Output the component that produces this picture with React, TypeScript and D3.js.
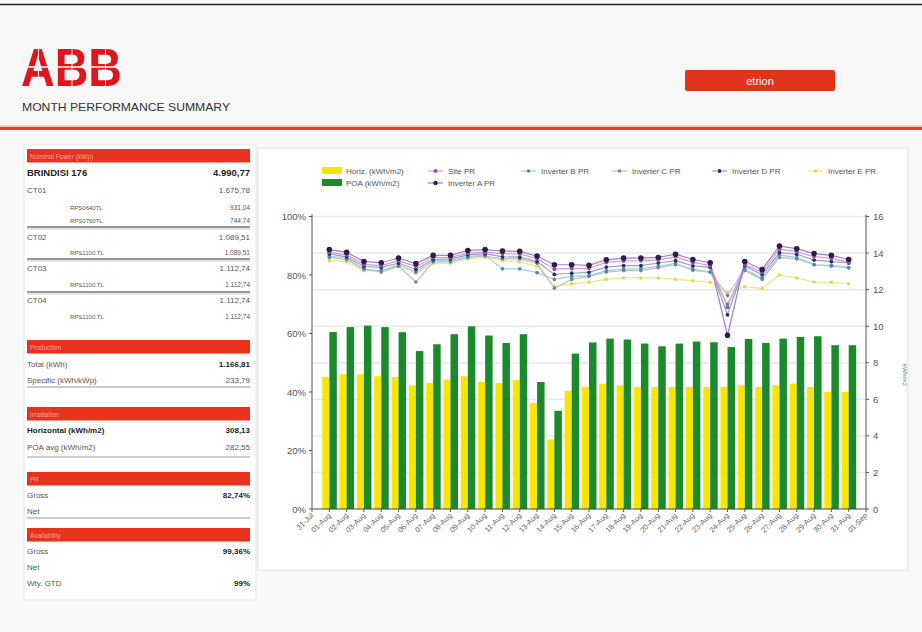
import React from 'react';
import * as d3 from 'd3';

const xLabels = ['31-Jul','01-Aug','02-Aug','03-Aug','04-Aug','05-Aug','06-Aug','07-Aug','08-Aug','09-Aug','10-Aug','11-Aug','12-Aug','13-Aug','14-Aug','15-Aug','16-Aug','17-Aug','18-Aug','19-Aug','20-Aug','21-Aug','22-Aug','23-Aug','24-Aug','25-Aug','26-Aug','27-Aug','28-Aug','29-Aug','30-Aug','31-Aug','01-Sep'];
const days = xLabels.slice(1, 32);

const horiz = [7.22,7.37,7.37,7.26,7.22,6.77,6.90,7.08,7.26,6.95,6.90,7.05,5.80,3.81,6.46,6.68,6.86,6.77,6.68,6.68,6.68,6.68,6.68,6.68,6.77,6.68,6.77,6.86,6.68,6.41,6.41];
const poa = [9.68,9.95,10.03,9.95,9.67,8.64,9.01,9.56,9.99,9.49,9.08,9.56,6.95,5.37,8.50,9.11,9.32,9.27,9.05,8.90,9.05,9.16,9.12,8.86,9.30,9.08,9.32,9.41,9.45,8.96,8.96];

const sitePR = [87.8,86.9,83.6,83.2,84.9,82.9,85.9,86.0,87.5,87.8,87.3,87.2,85.6,82.0,82.2,82.3,84.3,84.8,84.9,85.2,86.2,84.3,83.2,69.0,83.6,80.9,88.8,88.0,86.3,85.7,84.3];
const invA = [88.7,87.8,84.6,84.2,85.8,83.9,86.7,86.7,88.4,88.7,88.2,88.1,86.5,83.5,83.5,83.3,85.2,85.8,85.8,86.0,87.1,85.3,84.2,59.4,84.6,81.9,89.9,89.0,87.3,86.7,85.3];
const invB = [86.5,85.8,82.0,81.5,83.5,81.0,84.8,85.0,86.3,86.8,82.1,82.1,80.8,78.5,79.5,79.8,81.5,82.0,82.2,83.0,84.0,81.6,81.0,73.0,82.0,79.0,86.8,86.0,83.5,83.3,82.5];
const invC = [86.0,85.2,82.0,81.0,83.0,77.6,84.5,84.5,86.0,86.5,85.5,85.5,84.0,75.5,78.5,79.5,81.0,81.5,81.5,82.5,83.5,82.0,81.0,70.0,81.5,78.5,86.0,85.5,83.5,83.0,82.5];
const invD = [87.2,86.2,82.9,82.6,84.1,81.9,85.3,85.5,86.9,87.3,86.2,86.1,84.6,80.2,80.6,80.9,82.7,83.2,83.2,84.1,84.9,83.1,82.6,66.4,83.1,80.1,87.6,87.1,85.1,84.6,84.1];
const invE = [85.0,84.5,81.5,81.5,83.0,80.5,84.0,84.0,85.5,86.0,85.0,84.5,83.0,76.0,77.0,77.5,78.5,79.0,79.0,79.0,78.5,78.0,77.5,74.0,76.0,75.4,80.0,79.0,77.6,77.5,77.0];

const leftTicks = [0, 20, 40, 60, 80, 100];
const rightTicks = [0, 2, 4, 6, 8, 10, 12, 14, 16];

const nominalRows: [string, string, string][] = [
  ['BRINDISI 176', '4.990,77', 'bold'],
  ['CT01', '1.675,78', 'main'],
  ['RPS0640TL', '931,04', 'sub'],
  ['RPS0760TL', '744,74', 'sub'],
  ['CT02', '1.089,51', 'main'],
  ['RPS1100 TL', '1.089,51', 'sub'],
  ['CT03', '1.112,74', 'main'],
  ['RPS1100 TL', '1.112,74', 'sub'],
  ['CT04', '1.112,74', 'main'],
  ['RPS1100 TL', '1.112,74', 'sub'],
];
const nominalY = [173, 190, 207, 220, 237, 252, 268, 284, 300, 316];
const nominalLines = [227, 259, 292];

const sections = [
  { title: 'Production', top: 340, rows: [['Total (kWh)', '1.166,81', 'b'], ['Specific (kWh/kWp)', '233,79', 'n']], rowY: [364, 380], line: 387 },
  { title: 'Irradiation', top: 407, rows: [['Horizontal (kWh/m2)', '308,13', 'B'], ['POA avg (kWh/m2)', '282,55', 'n']], rowY: [430, 447], line: 457 },
  { title: 'PR', top: 472, rows: [['Gross', '82,74%', 'b'], ['Net', '', 'n']], rowY: [495, 511], line: 518 },
  { title: 'Availability', top: 528, rows: [['Gross', '99,36%', 'b'], ['Net', '', 'n'], ['Wty. GTD', '99%', 'b']], rowY: [551, 567, 583], line: -1 },
];

const X0 = 312, X1 = 866, Y0 = 509, Y1 = 216.5;
const FONT = 'Liberation Sans, Arial, sans-serif';

const series = [
  { name: 'Inverter E PR', data: invE, line: '#eee58a', dot: '#e3d64c', r: 1.8 },
  { name: 'Inverter C PR', data: invC, line: '#b7c4bd', dot: '#71898a', r: 1.8 },
  { name: 'Inverter B PR', data: invB, line: '#a9c9e4', dot: '#4b86c4', r: 1.8 },
  { name: 'Inverter D PR', data: invD, line: '#9aa0c4', dot: '#28315c', r: 1.9 },
  { name: 'Site PR', data: sitePR, line: '#d59ad6', dot: '#8a58ae', r: 2.0 },
  { name: 'Inverter A PR', data: invA, line: '#a37fc4', dot: '#2c1d4b', r: 2.8 },
];

export default function App() {
  const x = d3.scalePoint<string>().domain(xLabels).range([X0, X1]);
  const yL = d3.scaleLinear().domain([0, 100]).range([Y0, Y1]);
  const yR = d3.scaleLinear().domain([0, 16]).range([Y0, Y1]);
  const mkLine = d3.line<number>().x((_, i) => x(days[i]) as number).y((d) => yL(d));
  const bw = 7;

  const legendLines = [
    { name: 'Site PR', s: series[4], x: 428, y: 171 },
    { name: 'Inverter A PR', s: series[5], x: 428, y: 183 },
    { name: 'Inverter B PR', s: series[2], x: 521, y: 171 },
    { name: 'Inverter C PR', s: series[1], x: 612, y: 171 },
    { name: 'Inverter D PR', s: series[3], x: 712, y: 171 },
    { name: 'Inverter E PR', s: series[0], x: 808, y: 171 },
  ];

  return (
    <svg width={922} height={632} style={{ position: 'absolute', left: 0, top: 0 }} fontFamily={FONT}>
      <rect x={0} y={0} width={922} height={632} fill="#f8f8f8" />
      <line x1={0} x2={922} y1={4.5} y2={4.5} stroke="#222" strokeWidth={1.5} />

      {/* header */}
      <text x={21} y={86} fontFamily="Liberation Sans Narrow, Arial Narrow, sans-serif" fontWeight="bold" fontSize={54} fill="#e2141c" textLength={101} lengthAdjust="spacingAndGlyphs">ABB</text>
      <line x1={20} x2={124} y1={67} y2={67} stroke="#f8f8f8" strokeWidth={1.5} />
      <line x1={38.5} x2={38.5} y1={45} y2={88} stroke="#f8f8f8" strokeWidth={1} />
      <line x1={72} x2={72} y1={45} y2={88} stroke="#f8f8f8" strokeWidth={1} />
      <line x1={105.5} x2={105.5} y1={45} y2={88} stroke="#f8f8f8" strokeWidth={1} />
      <text x={22} y={111} fontSize={10.5} fill="#333" textLength={208} lengthAdjust="spacingAndGlyphs">MONTH PERFORMANCE SUMMARY</text>
      <rect x={685} y={70} width={150} height={21} rx={2} fill="#e3321c" />
      <text x={760} y={84.5} fontSize={11} fill="#fff" textAnchor="middle">etrion</text>
      <line x1={0} x2={922} y1={126} y2={126} stroke="#f2a49a" strokeWidth={1} />
      <line x1={0} x2={922} y1={128.5} y2={128.5} stroke="#e33b2a" strokeWidth={3} />

      {/* left panel */}
      <rect x={24} y={145} width={232} height={455} fill="#fff" stroke="#e6e6e6" />
      <rect x={27} y={149} width={223} height={13.5} fill="#e8321e" />
      <text x={30} y={158.5} fontSize={6.5} fill="#f6a898">Nominal Power (kWp)</text>
      {nominalRows.map((r, i) => (
        <g key={'n' + i}>
          <text x={r[2] === 'sub' ? 70 : 27} y={nominalY[i] + 3} fontSize={r[2] === 'bold' ? 9.5 : r[2] === 'sub' ? 6 : 8} fontWeight={r[2] === 'bold' ? 'bold' : 'normal'} fill={r[2] === 'bold' ? '#222' : '#555'}>{r[0]}</text>
          <text x={250} y={nominalY[i] + 3} textAnchor="end" fontSize={r[2] === 'bold' ? 9.5 : r[2] === 'sub' ? 6.5 : 8} fontWeight={r[2] === 'bold' ? 'bold' : 'normal'} fill={r[2] === 'bold' ? '#222' : '#555'}>{r[1]}</text>
        </g>
      ))}
      {nominalLines.map((ly, i) => (
        <g key={'nl' + i}>
          <line x1={27} x2={250} y1={ly} y2={ly} stroke="#777" strokeWidth={1.5} />
          <line x1={27} x2={250} y1={ly + 2} y2={ly + 2} stroke="#bbb" strokeWidth={0.8} />
        </g>
      ))}
      {sections.map((s, si) => (
        <g key={'s' + si}>
          <rect x={27} y={s.top} width={223} height={13.5} fill="#e8321e" />
          <text x={30} y={s.top + 9.5} fontSize={6.5} fill="#f6a898">{s.title}</text>
          {s.rows.map((r, ri) => (
            <g key={ri}>
              <text x={27} y={s.rowY[ri] + 3} fontSize={8} fontWeight={r[2] === 'B' ? 'bold' : 'normal'} fill={r[2] === 'B' ? '#222' : '#555'}>{r[0]}</text>
              <text x={250} y={s.rowY[ri] + 3} textAnchor="end" fontSize={8} fontWeight={r[2] === 'n' ? 'normal' : 'bold'} fill={r[2] === 'n' ? '#555' : '#222'}>{r[1]}</text>
            </g>
          ))}
          {s.line > 0 && <line x1={27} x2={250} y1={s.line} y2={s.line} stroke="#999" strokeWidth={1} />}
        </g>
      ))}

      {/* chart panel */}
      <rect x={258} y={148} width={650} height={422} fill="#fff" stroke="#e2e2e2" />

      {/* gridlines */}
      {rightTicks.filter((t) => t > 0).map((t) => (
        <line key={'g' + t} x1={X0} x2={X1} y1={yR(t)} y2={yR(t)} stroke="#e9e9e9" strokeWidth={1.5} />
      ))}

      {/* bars */}
      {days.map((d, i) => (
        <g key={'b' + d}>
          <rect x={(x(d) as number) - bw} y={yR(horiz[i])} width={bw} height={Y0 - yR(horiz[i])} fill="#f6e600" />
          <rect x={(x(d) as number)} y={yR(poa[i])} width={bw + 0.5} height={Y0 - yR(poa[i])} fill="#1b8a2c" />
        </g>
      ))}

      {/* lines */}
      {series.map((s) => (
        <path key={'l' + s.name} d={mkLine(s.data) || ''} fill="none" stroke={s.line} strokeWidth={1.2} />
      ))}
      {series.map((s) => (
        <g key={'m' + s.name}>
          {s.data.map((v, i) => (
            <circle key={i} cx={x(days[i]) as number} cy={yL(v)} r={s.r} fill={s.dot} />
          ))}
        </g>
      ))}

      {/* axes */}
      <line x1={X0} x2={X0} y1={Y1 - 2} y2={Y0} stroke="#555" strokeWidth={1} />
      <line x1={X1} x2={X1} y1={Y1 - 2} y2={Y0} stroke="#555" strokeWidth={1} />
      <line x1={X0} x2={X1} y1={Y0} y2={Y0} stroke="#444" strokeWidth={1.2} />
      {leftTicks.map((t) => (
        <g key={'lt' + t}>
          <line x1={X0 - 3} x2={X0} y1={yL(t)} y2={yL(t)} stroke="#555" />
          <text x={X0 - 6} y={yL(t) + 3.5} textAnchor="end" fontSize={9.5} fill="#555">{t + '%'}</text>
        </g>
      ))}
      {rightTicks.map((t) => (
        <g key={'rt' + t}>
          <line x1={X1} x2={X1 + 3} y1={yR(t)} y2={yR(t)} stroke="#555" />
          <text x={X1 + 7} y={yR(t) + 3.5} fontSize={9.5} fill="#555">{t}</text>
        </g>
      ))}
      <text transform="translate(903,375) rotate(90)" fontSize={6} fill="#777" textAnchor="middle">kWh/m2</text>
      {xLabels.map((l) => (
        <g key={'xl' + l}>
          <line x1={x(l) as number} x2={x(l) as number} y1={Y0} y2={Y0 + 3} stroke="#555" />
          <text transform={`translate(${(x(l) as number) + 2},${Y0 + 7}) rotate(-45)`} textAnchor="end" fontSize={7.5} fill="#666">{l}</text>
        </g>
      ))}

      {/* legend */}
      <rect x={322} y={167} width={20} height={7} fill="#f6e600" />
      <text x={346} y={173.5} fontSize={8} fill="#555">Horiz. (kWh/m2)</text>
      <rect x={322} y={179} width={20} height={7} fill="#1b8a2c" />
      <text x={346} y={185.5} fontSize={8} fill="#555">POA (kWh/m2)</text>
      {legendLines.map((l) => (
        <g key={'lg' + l.name}>
          <line x1={l.x} x2={l.x + 15} y1={l.y} y2={l.y} stroke={l.s.line} strokeWidth={1.2} />
          <circle cx={l.x + 7.5} cy={l.y} r={Math.min(l.s.r, 2.2)} fill={l.s.dot} />
          <text x={l.x + 20} y={l.y + 2.5} fontSize={8} fill="#555">{l.name}</text>
        </g>
      ))}
    </svg>
  );
}
